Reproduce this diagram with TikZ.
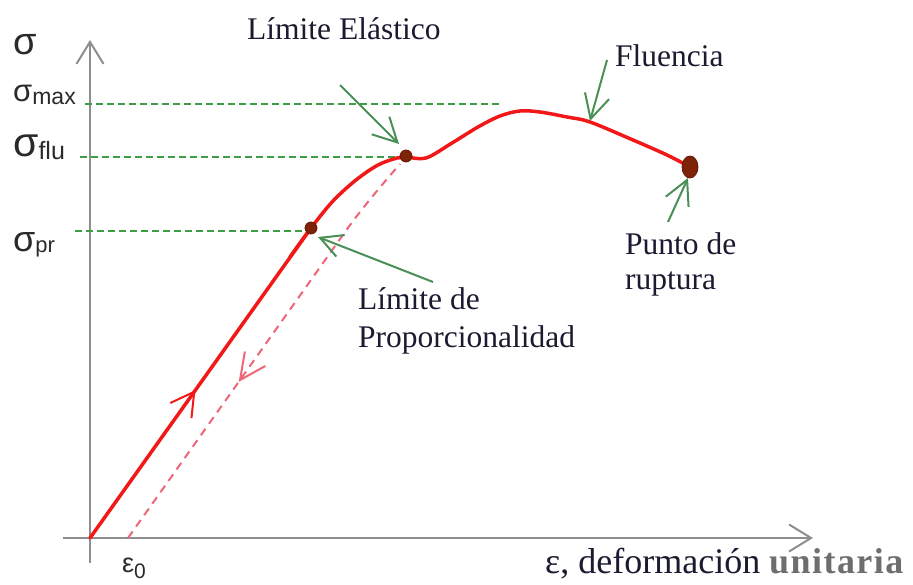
\documentclass[tikz,border=0pt]{standalone}
\usepackage{fontspec}
\setmainfont{Liberation Serif}
\setsansfont{Liberation Sans}
\usetikzlibrary{arrows.meta,decorations.markings,shapes.geometric}
\definecolor{curvered}{HTML}{F21818}
\definecolor{unloadpink}{HTML}{EE6677}
\definecolor{guidegreen}{HTML}{3E9E46}
\definecolor{arrowgreen}{HTML}{4A8F55}
\definecolor{dotbrown}{HTML}{7E2208}
\definecolor{axisgray}{HTML}{8E8E8E}
\definecolor{labelink}{HTML}{1A1A30}
\definecolor{symink}{HTML}{2A2A2A}
\definecolor{unitgray}{HTML}{6E6E6E}
\begin{document}
\begin{tikzpicture}[x=1pt,y=-1pt,
  axisline/.style={draw=axisgray,line width=2pt,-{Straight Barb[length=22pt,width=27pt,line width=2pt]}},
  guide/.style={draw=guidegreen,line width=1.5pt,dash pattern=on 7pt off 4pt},
  pointer/.style={draw=arrowgreen,line width=2pt,-{Straight Barb[length=24pt,width=25pt,line width=2pt]}},
  note/.style={font=\fontsize{31.5}{36}\selectfont,text=labelink,inner sep=0pt,anchor=base west},
  sym/.style={text=symink,inner sep=0pt,anchor=base west},
  loadline/.style={draw=curvered,line width=3.5pt,line cap=round,line join=round},
  unload/.style={draw=unloadpink,line width=2pt,dash pattern=on 8pt off 6pt},
  dotmark/.style={fill=dotbrown,draw=dotbrown!80!black,line width=0.8pt,inner sep=0pt}
]
\useasboundingbox (0,0) rectangle (913,585);

% axes
\coordinate (O) at (90,538);
\coordinate (xstart) at (63,538);
\coordinate (xend) at (813,538);
\coordinate (ystart) at (90,563);
\coordinate (yend) at (90,40);
\draw[axisline] (xstart) -- (xend);
\draw[axisline] (ystart) -- (yend);

% guide lines
\coordinate (gmaxA) at (85,104);  \coordinate (gmaxB) at (502,104);
\coordinate (gfluA) at (80,157);  \coordinate (gfluB) at (402,157);
\coordinate (gprA) at (75,231);   \coordinate (gprB) at (308,231);
\draw[guide] (gmaxA) -- (gmaxB);
\draw[guide] (gfluA) -- (gfluB);
\draw[guide] (gprA) -- (gprB);

% key points
\coordinate (prpt) at (311,228);
\coordinate (elpt) at (406,156);
\coordinate (rupt) at (690,167);

% unloading line
\coordinate (E0) at (128,538);
\coordinate (unA) at (345,232);
\coordinate (unB) at (400,164);
\draw[unload] (E0) -- (unA) .. controls (362,208) and (386,180) .. (unB);
\path[color=unloadpink,decoration={markings,mark=at position 0.49 with {\arrow{Straight Barb[length=26pt,width=25pt,line width=2pt]}}},postaction={decorate}] (unA) -- (E0);

% loading curve
\draw[loadline,decoration={markings,mark=at position 0.477 with {\arrow[color=curvered]{Straight Barb[length=23pt,width=26pt,line width=2pt]}}},postaction={decorate}] (O) -- (prpt);
\draw[loadline] plot[smooth,tension=0.55] coordinates {(290,257) (311,228) (333,201) (356,180) (378,165) (397,158) (406,157) (426,158) (452,143) (478,127) (500,116) (520,111) (540,112) (567,117) (590,122) (633,140) (667,155) (690,167)};

% dots
\node[circle,dotmark,minimum size=12pt] (prdot) at (prpt) {};
\node[circle,dotmark,minimum size=12pt] (eldot) at (elpt) {};
\node[ellipse,dotmark,minimum width=16pt,minimum height=22pt] (rupdot) at (rupt) {};

% axis labels
\node[sym] (sig) at (13,55) {\sffamily\fontsize{38}{40}\selectfont σ};
\node[sym] (sigmax) at (13,102) {\sffamily\fontsize{31}{34}\selectfont σ\raisebox{-3pt}{\fontsize{23}{24}\selectfont max}};
\node[sym] (sigflu) at (13,157) {\sffamily\fontsize{41}{44}\selectfont σ\raisebox{-3pt}{\fontsize{25}{26}\selectfont flu}};
\node[sym] (sigpr) at (13,252) {\sffamily\fontsize{36}{38}\selectfont σ\raisebox{-1pt}{\fontsize{22}{24}\selectfont pr}};
\node[sym] (eps0) at (122,572) {\sffamily\fontsize{27}{30}\selectfont ε\raisebox{-6pt}{\fontsize{21}{24}\selectfont 0}};
\node[note,font=\fontsize{36}{40}\selectfont] (xlab) at (545,573) {ε, deformación {\bfseries\color{unitgray}\addfontfeatures{LetterSpace=4}unitaria}};

% annotations
\node[note] (elast) at (247,40) {Límite Elástico};
\node[note] (fluen) at (615,67) {Fluencia};
\node[note] (punto1) at (625,255) {Punto de};
\node[note] (punto2) at (625,290) {ruptura};
\node[note] (prop1) at (358,310) {Límite de};
\node[note] (prop2) at (358,348) {Proporcionalidad};

% pointers
\coordinate (pElA) at (340,85);  \coordinate (pElB) at (399,144);
\coordinate (pFlA) at (607,60);  \coordinate (pFlB) at (590,121);
\coordinate (pRuA) at (668,222); \coordinate (pRuB) at (688,178);
\coordinate (pPrA) at (433,282); \coordinate (pPrB) at (318,237);
\draw[pointer] (pElA) -- (pElB);
\draw[pointer] (pFlA) -- (pFlB);
\draw[pointer] (pRuA) -- (pRuB);
\draw[pointer,-{Straight Barb[length=22pt,width=23pt,line width=2pt]}] (pPrA) -- (pPrB);
\end{tikzpicture}
\end{document}
